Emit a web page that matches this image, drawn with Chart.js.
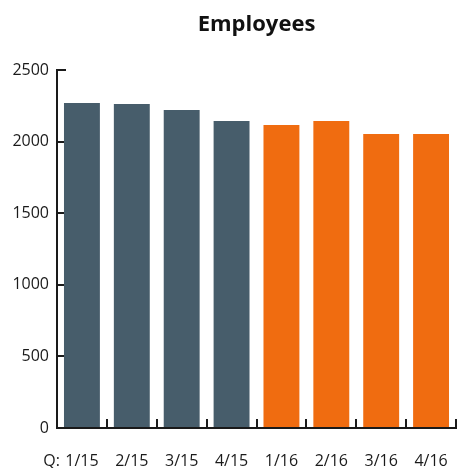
<!DOCTYPE html>
<html>
<head>
<meta charset="utf-8">
<script src="https://cdn.jsdelivr.net/npm/chart.js@4"></script>
<style>
  html, body { margin: 0; padding: 0; background: #fff; }
  #wrap { width: 457px; height: 468px; position: relative; }
</style>
</head>
<body>
<div id="wrap"><canvas id="c"></canvas></div>
<script>
const chartTitle = 'Employees';
const axisPrefix = 'Q:';
const categories = ['1/15', '2/15', '3/15', '4/15', '1/16', '2/16', '3/16', '4/16'];
const employees = [2269, 2262, 2220, 2144, 2116, 2144, 2053, 2053];
const yTicks = [0, 500, 1000, 1500, 2000, 2500];

const COLOR_2015 = '#475d6b';
const COLOR_2016 = '#f06c10';
const AXIS = '#1a1a1a';
const FONT = "'Open Sans', 'Noto Sans', sans-serif";

const extras = {
  id: 'extras',
  afterDraw(chart) {
    const ctx = chart.ctx;
    const a = chart.chartArea;
    ctx.save();
    ctx.fillStyle = '#111';
    ctx.font = "bold 22px " + FONT;
    ctx.textAlign = 'center';
    ctx.textBaseline = 'alphabetic';
    ctx.fillText(chartTitle, (a.left + a.right) / 2, 31);
    ctx.font = "16px " + FONT;
    ctx.fillStyle = '#1a1a1a';
    ctx.textAlign = 'right';
    ctx.textBaseline = 'middle';
    ctx.fillText(axisPrefix, a.left + 3, a.bottom + 33);
    ctx.restore();
  }
};

new Chart(document.getElementById('c'), {
  type: 'bar',
  data: {
    labels: categories,
    datasets: [{
      data: employees,
      backgroundColor: categories.map(c => c.endsWith('15') ? COLOR_2015 : COLOR_2016),
      borderWidth: 0,
      categoryPercentage: 1,
      barPercentage: 0.72
    }]
  },
  options: {
    responsive: true,
    maintainAspectRatio: false,
    animation: false,
    layout: { padding: { top: 70, right: 1, left: 0, bottom: 0 } },
    plugins: { legend: { display: false }, title: { display: false }, tooltip: { enabled: false } },
    scales: {
      x: {
        offset: true,
        grid: { offset: true, drawOnChartArea: false, drawTicks: true, tickLength: -9, color: AXIS, lineWidth: 2 },
        border: { display: true, color: AXIS, width: 2 },
        ticks: { color: '#1a1a1a', font: { family: FONT, size: 16 }, padding: 33, maxRotation: 0, autoSkip: false },
        afterFit: s => { s.height = 40; s.paddingLeft = 0; s.paddingRight = 0; }
      },
      y: {
        min: 0, max: 2500,
        afterBuildTicks: s => { s.ticks = yTicks.map(v => ({ value: v })); },
        grid: { drawOnChartArea: false, drawTicks: true, tickLength: -9, color: AXIS, lineWidth: 2 },
        border: { display: true, color: AXIS, width: 2 },
        ticks: { color: '#1a1a1a', font: { family: FONT, size: 16 }, padding: 17, callback: v => String(v) },
        afterFit: s => { s.width = 57; s.paddingTop = 0; s.paddingBottom = 0; }
      }
    }
  },
  plugins: [extras]
});
</script>
</body>
</html>
